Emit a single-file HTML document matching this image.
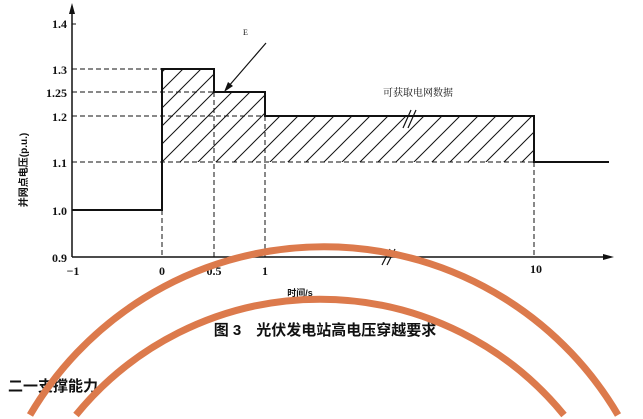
<!DOCTYPE html>
<html><head><meta charset="utf-8"><style>
html,body{margin:0;padding:0;background:#fff;width:643px;height:419px;overflow:hidden;}
svg{display:block;}
text{font-family:"Liberation Serif","Noto Serif CJK SC",serif;fill:#111;}
.cj{font-family:"Liberation Sans","Noto Sans CJK SC",sans-serif;font-weight:bold;}
</style></head><body>
<svg width="643" height="419" viewBox="0 0 643 419" xmlns="http://www.w3.org/2000/svg">
<defs>
<pattern id="h" patternUnits="userSpaceOnUse" width="18" height="18">
<line x1="0" y1="18" x2="18" y2="0" stroke="#111" stroke-width="1"/>
<line x1="-9" y1="9" x2="9" y2="-9" stroke="#111" stroke-width="1"/>
<line x1="9" y1="27" x2="27" y2="9" stroke="#111" stroke-width="1"/>
</pattern>
</defs>
<path d="M162,69 H214 V92 H265 V116 H534 V162 H162 Z" fill="url(#h)"/>
<g stroke="#111" stroke-width="1" stroke-dasharray="5,3" fill="none">
<line x1="72" y1="69" x2="162" y2="69"/>
<line x1="72" y1="92" x2="214" y2="92"/>
<line x1="72" y1="116" x2="265" y2="116"/>
<line x1="72" y1="162" x2="534" y2="162"/>
<line x1="162" y1="210" x2="162" y2="257"/>
<line x1="214" y1="92" x2="214" y2="257"/>
<line x1="265" y1="116" x2="265" y2="257"/>
<line x1="534" y1="162" x2="534" y2="257"/>
</g>
<g stroke="#111" stroke-width="1.5" fill="none">
<line x1="72" y1="8" x2="72" y2="257"/>
<line x1="72" y1="257" x2="608" y2="257"/>
</g>
<polygon points="72,3 69,14 75,14" fill="#111"/>
<polygon points="614,257 603,254 603,260" fill="#111"/>
<g stroke="#111" stroke-width="1"><line x1="72" y1="24" x2="76" y2="24"/></g>
<path d="M72,210 H162 V69 H214 V92 H265 V116 H534 V162 H609" fill="none" stroke="#111" stroke-width="2"/>
<g stroke="#111" stroke-width="1.2"><line x1="403" y1="128" x2="411" y2="110"/><line x1="408" y1="128" x2="416" y2="110"/>
<line x1="382" y1="265" x2="390" y2="249"/><line x1="387" y1="265" x2="395" y2="249"/></g>
<line x1="266" y1="43" x2="228" y2="87" stroke="#111" stroke-width="1.2"/>
<polygon points="224,92 228,82 233,86" fill="#111"/>
<text x="243" y="35" font-size="8">E</text>
<text x="383" y="96" font-size="10" fill="#444">可获取电网数据</text>
<g font-size="12" font-weight="bold" text-anchor="end">
<text x="67" y="28">1.4</text><text x="67" y="74">1.3</text><text x="67" y="97">1.25</text>
<text x="67" y="121">1.2</text><text x="67" y="167">1.1</text><text x="67" y="215">1.0</text>
<text x="67" y="262">0.9</text>
</g>
<g font-size="12" font-weight="bold" text-anchor="middle">
<text x="73" y="275">−1</text><text x="162" y="275">0</text><text x="214" y="275">0.5</text>
<text x="265" y="275">1</text><text x="536" y="273">10</text>
</g>
<text class="cj" x="300" y="296" font-size="9" text-anchor="middle">时间/s</text>
<text class="cj" font-size="10" transform="translate(27,170) rotate(-90)" text-anchor="middle">并网点电压(p.u.)</text>
<text class="cj" x="325" y="335" font-size="15" text-anchor="middle">图 3　光伏发电站高电压穿越要求</text>
<text class="cj" x="8" y="391" font-size="15">二一支撑能力</text>
<g fill="none" stroke="#dc7a4c" stroke-width="7">
<path d="M30,415 A341,341 0 0 1 618,415"/>
<path d="M76,415 A315,315 0 0 1 564,415"/>
</g>
</svg>
</body></html>
